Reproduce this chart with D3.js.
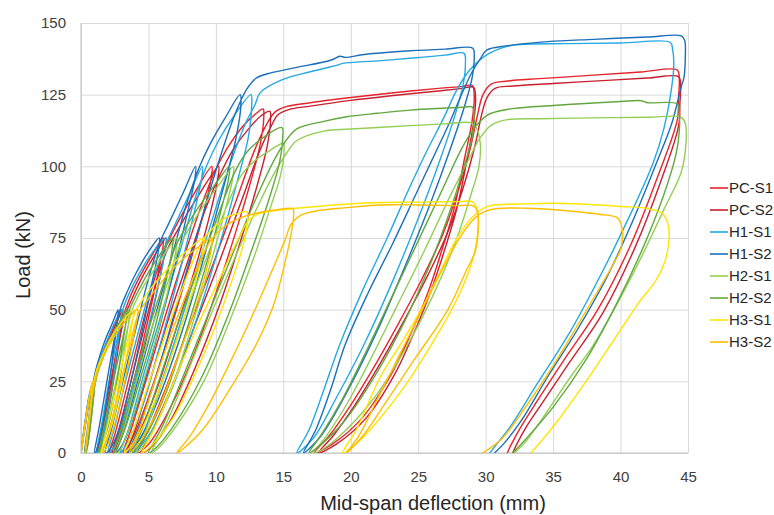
<!DOCTYPE html>
<html>
<head>
<meta charset="utf-8">
<script src="https://cdn.jsdelivr.net/npm/d3@7"></script>
<style>
  body { margin: 0; background: #fff; }
  text { font-family: "Liberation Sans", Arial, sans-serif; }
</style>
</head>
<body>
<svg id="chart"></svg>
<script>
// ---- data ----
const SERIES_NAMES = ['PC-S1', 'PC-S2', 'H1-S1', 'H1-S2', 'H2-S1', 'H2-S2', 'H3-S1', 'H3-S2'];
const X_TICKS = [0, 5, 10, 15, 20, 25, 30, 35, 40, 45];
const Y_TICKS = [0, 25, 50, 75, 100, 125, 150];

// [deflection mm, load kN]
const PC_S1 = [
  [0,0],[0.3,10],[0.6,19],[0.95,25],
  [0.92,22],[0.7,13],[0.45,4],[0.3,0],
  [0.55,8],[0.8,18],[1.05,26],[1.5,33],[2.0,39.5],[2.5,45],[3.0,50],
  [2.97,47],[2.7,38],[2.3,25],[1.8,11],[1.4,3],[1.15,0],
  [1.5,8],[2.0,20],[2.6,35],[3.1,47],[3.6,54],[4.3,61],[5.2,68.5],[6.1,75],
  [6.05,71],[5.6,60],[4.9,45],[4.0,27],[3.0,10],[2.4,2],[2.1,0],
  [2.6,8],[3.4,23],[4.4,42],[5.4,60],[6.2,71],[6.9,78],[8.2,89],[9.7,100],
  [9.65,96],[9.1,84],[8.0,65],[6.7,44],[5.2,22],[4.0,7],[3.3,1],[3.1,0],
  [3.7,8],[4.8,25],[6.2,47],[7.6,68],[8.9,86],[9.9,98],[10.8,106],[12.0,114],[13.0,118.5],[13.5,120],
  [13.55,117],[13.3,108],[12.6,95],[11.4,76],[9.8,53],[8.0,30],[6.2,12],[5.0,3],[4.2,0],
  [5.0,8],[6.4,24],[8.0,44],[9.8,66],[11.5,88],[12.9,106],[13.8,115],[14.4,119],[15.2,120.8],[17,122.2],[20,124],[23,125.6],[26.5,127.2],[28.3,127.9],[29.0,128.3],
  [29.15,125],[29.0,116],[28.4,102],[27.65,85],[26.7,70],[25.7,55.7],[24.3,40],[22.9,26.6],[20.8,12],[18.6,3],[17.3,0],
  [18.4,6],[19.9,16],[21.6,29],[23.4,44],[25.2,60],[26.8,76],[28.0,92],[28.9,107],[29.4,118],[29.8,125],[30.4,128.7],[31.5,129.7],[34,130.6],[38,131.8],[41.5,132.9],[44.2,133.6],
  [44.35,131],[44.3,124],[44.2,116.1],[42.75,96.4],[40.8,73.1],[38.3,49.9],[35.8,32.4],[33.8,18],[32.6,9],[31.9,3],[31.6,0]
];
const PC_S2 = [
  [0,0],[0.3,9],[0.65,19],[1.0,25],
  [0.97,22],[0.75,13],[0.5,4],[0.35,0],
  [0.6,8],[0.85,18],[1.1,26],[1.6,33],[2.1,39.5],[2.6,45],[3.1,50],
  [3.07,47],[2.8,38],[2.4,25],[1.9,11],[1.5,3],[1.25,0],
  [1.6,8],[2.1,20],[2.7,35],[3.2,47],[3.8,54],[4.5,61],[5.4,68.5],[6.3,75],
  [6.25,71],[5.8,60],[5.1,45],[4.2,27],[3.2,10],[2.6,2],[2.3,0],
  [2.8,8],[3.6,23],[4.6,42],[5.6,60],[6.4,71],[7.2,78],[8.6,89],[10.2,100],
  [10.15,96],[9.6,84],[8.5,65],[7.1,44],[5.6,22],[4.3,7],[3.6,1],[3.4,0],
  [4.0,8],[5.1,25],[6.5,47],[8.0,68],[9.3,86],[10.4,98],[11.3,106],[12.5,113.5],[13.4,117.8],[14.0,119.2],
  [14.05,116],[13.8,107],[13.1,94],[11.9,75],[10.3,52],[8.4,29],[6.6,11],[5.3,2.5],[4.5,0],
  [5.3,8],[6.8,24],[8.4,44],[10.2,66],[11.9,88],[13.3,106],[14.1,114],[14.6,118],[15.4,119.8],[17,121],[20,123],[23,124.6],[26.5,126.3],[28.3,127.2],[29.1,127.6],
  [29.25,124],[29.1,115],[28.6,102],[27.9,86],[26.9,70],[25.9,56],[24.6,41],[23.2,27],[21.1,12],[18.9,3],[17.6,0],
  [18.7,6],[20.2,16],[21.9,29],[23.7,44],[25.5,60],[27.1,76],[28.3,92],[29.2,107],[29.7,118],[30.1,124],[30.7,127.2],[32,128],[35,128.9],[39,130],[42,130.8],[44.3,131.3],
  [44.45,129],[44.4,122],[44.3,114],[43.0,95],[41.1,72],[38.7,49],[36.2,31.5],[34.2,17.5],[33.0,9],[32.3,3],[32.0,0]
];
const H1_S1 = [
  [0,0],[0.3,10],[0.65,20],[1.0,25],
  [0.97,22],[0.75,12],[0.5,3],[0.35,0],
  [0.6,9],[0.85,19],[1.1,27],[1.5,34],[2.0,40],[2.5,45.5],[3.0,50],
  [2.97,47],[2.7,37],[2.3,23],[1.8,9],[1.4,2],[1.15,0],
  [1.5,9],[2.0,23],[2.6,38],[3.1,50],[3.6,56],[4.3,62.5],[5.3,70],[6.3,75],
  [6.25,71],[5.8,60],[5.0,44],[4.0,25],[3.0,8],[2.3,1],[2.0,0],
  [2.5,9],[3.3,25],[4.3,43],[5.3,60],[6.3,73],[7.0,80],[8.0,90],[9.0,100],
  [8.95,96],[8.4,84],[7.3,63],[6.0,40],[4.6,17],[3.5,4],[2.9,0],
  [3.5,8],[4.5,25],[5.8,46],[7.2,68],[8.4,88],[9.3,100],[10.2,109],[11.4,118],[12.6,125],
  [12.65,121],[12.4,110],[11.6,95],[10.3,73],[8.6,47],[6.7,22],[5.0,6],[3.9,0],
  [4.8,9],[6.2,28],[7.8,52],[9.5,78],[11.0,100],[12.2,115],[12.9,121.5],[13.3,125.8],[14.8,130],[17,133],[19,135.3],[19.4,135.9],[22,136.8],[24.4,137.7],[27,138.8],[28.4,139.4],
  [28.5,136],[28.35,129],[27.8,119],[26.6,102],[25.1,83],[23.2,61],[21.1,39],[18.9,19],[17.2,5],[16.0,0],
  [16.9,8],[18.0,22],[19.2,38],[20.9,57],[22.7,75],[24.3,92],[25.6,105],[26.9,117],[27.9,127],[28.8,133.5],[29.5,136.8],[30.2,139.2],[31,141],[32.1,142.3],[36,142.8],[40,143],[43.7,143.2],
  [43.85,141],[43.95,136],[43.8,128],[43.2,113],[42.4,101],[40.4,80],[38.3,60],[36.1,41],[33.8,24],[31.8,9],[30.8,3],[30.3,0]
];
const H1_S2 = [
  [0,0],[0.3,11],[0.6,20],[0.9,25],
  [0.87,22],[0.65,12],[0.4,3],[0.25,0],
  [0.5,9],[0.75,19],[1.0,27],[1.4,34],[1.8,39.5],[2.3,45],[2.75,50],
  [2.72,47],[2.45,37],[2.05,23],[1.6,9],[1.2,1.5],[1.0,0],
  [1.35,9],[1.85,23],[2.4,38],[2.9,50],[3.4,56],[4.0,62],[4.9,69.5],[5.8,75],
  [5.75,71],[5.3,60],[4.6,44],[3.7,25],[2.8,8],[2.1,1],[1.8,0],
  [2.3,9],[3.1,25],[4.0,42],[4.9,59],[5.8,73],[6.5,80],[7.5,90],[8.5,100],
  [8.45,96],[7.9,84],[6.9,64],[5.6,40],[4.2,17],[3.2,4],[2.6,0],
  [3.2,8],[4.2,25],[5.4,46],[6.7,68],[7.9,88],[8.8,100],[9.6,108],[10.7,117],[11.8,125],
  [11.85,121],[11.5,110],[10.7,95],[9.4,73],[7.8,47],[6.0,22],[4.5,6],[3.5,0],
  [4.3,9],[5.6,27],[7.0,50],[8.6,76],[10.1,100],[11.4,118],[12.3,127],[13.0,130.8],[14.0,132.5],[16,134.5],[18.5,137],[19.2,138.4],[19.6,138],[21,139],[24.4,140.3],[27,140.9],[29.05,141.2],
  [29.15,138],[29.0,131],[28.5,122],[27.3,105],[25.9,87],[24.1,66],[22.0,43],[19.8,22],[17.8,6],[16.5,0],
  [17.4,8],[18.5,22],[19.6,38],[21.3,56],[23.1,73],[24.8,90],[26.0,102],[27.3,115],[28.3,126],[29.0,133],[29.6,137.5],[30.1,140.6],[31.5,142],[34.6,143.5],[38,144.3],[42,145.1],[44.5,145.5],
  [44.75,144],[44.8,138],[44.7,131],[44.5,127.8],[43.8,115],[42.75,102.2],[41.0,82],[39.0,61.5],[36.8,43],[34.6,26.6],[32.6,11],[31.3,3],[30.65,0]
];
const H2_S1 = [
  [0,0],[0.3,10],[0.65,20],[1.0,25],
  [0.97,22],[0.75,12],[0.5,3],[0.38,0],
  [0.6,8],[0.9,20],[1.25,28],[1.8,35],[2.4,41],[3.0,46],[3.6,50],
  [3.57,47],[3.25,37],[2.8,23],[2.2,9],[1.7,2],[1.45,0],
  [1.9,9],[2.5,23],[3.2,38],[3.8,50],[4.5,57],[5.3,63],[6.2,69.5],[7.1,75],
  [7.05,71],[6.6,60],[5.8,44],[4.7,26],[3.6,9],[2.9,1],[2.6,0],
  [3.2,9],[4.1,25],[5.2,43],[6.4,59],[7.3,72],[8.1,79],[9.2,87],[10.3,94],[11.3,100],
  [11.25,96],[10.7,85],[9.6,66],[8.2,44],[6.6,21],[5.1,6],[4.1,0],
  [4.9,9],[6.2,27],[7.7,48],[9.3,68],[10.8,86],[11.9,97],[12.9,102],[14,105.5],[15.0,108],
  [15.05,105],[14.8,97],[14.0,85],[12.8,68],[11.1,47],[9.1,25],[7.0,9],[5.8,2],[5.2,0],
  [6.2,9],[7.8,27],[9.6,48],[11.4,68],[13.1,86],[14.5,99],[15.3,105],[16,109],[18,112.3],[20,113],[24.4,114.2],[27,114.8],[28.9,115.2],
  [29.3,113.5],[29.6,108],[29.5,100],[28.9,90],[27.8,74],[26.1,55],[24.0,36],[21.7,19],[19.2,6],[17.8,1],[17.25,0],
  [18.2,6],[19.7,17],[21.5,33],[23.5,52],[25.5,71],[27.3,89],[28.7,102],[29.6,110],[30.4,114.3],[31.5,116.2],[34,116.6],[38,116.9],[42,117.1],[44.5,117.1],
  [44.8,115],[44.85,108],[44.5,98],[43.2,84.8],[41.4,67],[39.5,49.9],[37.9,37],[36.3,26.6],[34.2,12],[32.8,3],[32.1,0]
];
const H2_S2 = [
  [0,0],[0.3,10],[0.65,20],[1.0,25],
  [0.97,22],[0.75,12],[0.5,3],[0.35,0],
  [0.6,9],[0.9,20],[1.2,28],[1.7,35],[2.3,41],[2.9,46],[3.4,50],
  [3.37,47],[3.05,37],[2.6,23],[2.0,9],[1.5,2],[1.3,0],
  [1.7,9],[2.3,23],[3.0,38],[3.6,50],[4.3,57],[5.0,63],[5.9,69.5],[6.8,75],
  [6.75,71],[6.3,60],[5.5,44],[4.4,26],[3.3,9],[2.6,1],[2.4,0],
  [3.0,9],[3.9,25],[5.0,43],[6.1,59],[7.0,72],[7.8,79],[8.9,87],[10.0,94],[11.0,100],
  [10.95,96],[10.4,85],[9.3,66],[7.9,44],[6.3,21],[4.8,6],[3.8,0],
  [4.6,9],[5.9,27],[7.4,48],[9.0,68],[10.4,86],[11.4,98],[12.3,105],[13.5,110],[14.9,113.5],
  [14.95,110],[14.7,101],[13.9,88],[12.6,70],[10.9,48],[8.9,26],[6.8,9],[5.6,2],[5.0,0],
  [6.0,9],[7.6,27],[9.4,48],[11.2,69],[12.9,88],[14.3,102],[15.2,109],[16,113.1],[18,115.7],[19.7,117.3],[22,118.5],[24.4,119.6],[26.5,120.2],[28.4,120.6],[29.0,120.7],
  [29.15,117],[29.0,110],[28.4,100],[27.4,85],[25.9,66],[24.0,46],[21.8,27],[19.5,11],[17.8,3],[16.9,0],
  [17.9,7],[19.4,19],[21.2,36],[23.1,55],[25.0,74],[26.8,92],[28.2,106],[29.1,113],[30.1,117.8],[31,119.3],[32.1,120.2],[35,121.2],[38,122.1],[40,122.6],[41.5,122.9],[42.0,122.2],[44.2,121.8],
  [44.35,119],[44.35,112],[44.1,104],[43.2,90],[41.7,72],[39.7,52],[37.5,33],[35.0,16],[33.0,5],[32.0,0]
];
const H3_S1 = [
  [0,0],[0.3,10],[0.6,19],[0.85,25],
  [0.82,22],[0.6,12],[0.4,3],[0.3,0],
  [0.5,8],[0.8,20],[1.1,28],[1.6,34],[2.2,40],[3.0,45.5],[3.9,50],
  [3.85,47],[3.5,37],[3.0,24],[2.3,10],[1.7,2],[1.5,0],
  [1.9,8],[2.6,22],[3.4,38],[4.0,49],[4.8,55],[5.8,61],[7.0,67],[8.1,71.5],[9.1,75],
  [9.05,71],[8.6,62],[7.7,48],[6.5,31],[5.0,13],[3.8,3],[3.2,0],
  [3.9,8],[5.0,24],[6.4,43],[7.8,61],[9.0,74],[9.8,78.5],[10.8,82.3],[11.6,83.5],[12.3,84.2],
  [12.35,81],[12.1,74],[11.4,63],[10.1,46],[8.5,28],[6.8,12],[5.3,3],[4.5,0],
  [5.4,8],[6.9,25],[8.7,45],[10.5,63],[11.8,76],[12.5,81.5],[13.2,83.5],[14.8,84.8],[17,85.8],[19,86.6],[21.5,87.3],[25,87.5],[28,87.7],[29.0,87.7],
  [29.3,86],[29.45,81],[29.3,73],[28.8,64],[27.7,52],[26.0,38],[23.8,22],[21.6,9],[20.1,2],[19.4,0],
  [20.4,8],[22.2,26.6],[23.7,38],[25.2,49.9],[26.5,62],[27.65,73.1],[28.6,80],[29.4,84],[30.0,85.8],[30.6,86.5],[33,86.9],[35.3,87.1],[38,86.6],[40,86],[42.0,85.3],[43.1,83.5],[43.5,80.1],
  [43.6,75],[43.3,67],[42.6,60],[41.5,53.4],[39.5,39.4],[37.3,24],[35.3,11],[34.0,3.5],[33.35,0]
];
const H3_S2 = [
  [0,0],[0.3,10],[0.6,19],[0.9,25],
  [0.87,22],[0.65,12],[0.4,3],[0.3,0],
  [0.55,8],[0.85,20],[1.2,28],[1.7,34],[2.4,40],[3.2,45.5],[4.2,50],
  [4.15,47],[3.8,38],[3.2,24],[2.5,10],[1.9,2],[1.6,0],
  [2.1,8],[2.8,22],[3.6,37],[4.3,49],[5.2,55],[6.2,61],[7.4,67],[8.6,71.5],[9.7,75],
  [9.65,71],[9.2,62],[8.3,48],[7.0,31],[5.5,13],[4.2,3],[3.6,0],
  [4.3,8],[5.4,24],[6.8,43],[8.3,61],[9.6,74],[10.5,78.5],[11.8,82],[13.3,84],[14.5,84.8],[15.7,85.2],
  [15.75,82],[15.6,77],[15.2,68],[14.3,52],[13.0,38],[11.0,22],[9.0,8],[7.7,2],[7.1,0],
  [8.1,6],[9.6,18],[11.3,34],[12.9,50],[14.2,64],[15.1,74],[15.6,80],[16.3,83],[17.5,84.5],[19.5,85.5],[22.2,86.5],[25,86.5],[28,86.3],[29.1,86.2],
  [29.4,84],[29.45,78],[29.2,70],[28.6,64],[27.2,50],[24.7,32.5],[22.5,17],[20.9,6],[19.7,0],
  [20.6,6],[22.0,19],[23.7,35],[25.4,51],[26.9,65],[28.2,76],[29.2,82],[29.9,84.2],[30.9,85.3],[33,85.4],[36,84.5],[38.5,83.2],[39.8,81.9],[40.15,77],
  [40.0,71],[39.5,66.2],[38.5,58],[37.0,46],[35.2,32],[33.1,17],[31.2,5],[29.75,0]
];

const SERIES_DATA = [PC_S1, PC_S2, H1_S1, H1_S2, H2_S1, H2_S2, H3_S1, H3_S2];
const SERIES_COLORS = ['#e8232b', '#c8202f', '#25a9e2', '#1c6fbb', '#94cf55', '#62a83e', '#ffe500', '#ffbf00'];

// ---- layout ----
const WIDTH = 774, HEIGHT = 515;
const MARGIN = { top: 23, right: 86, bottom: 62, left: 81 };
const PLOT_W = WIDTH - MARGIN.left - MARGIN.right;
const PLOT_H = HEIGHT - MARGIN.top - MARGIN.bottom;

const svg = d3.select('#chart')
  .attr('width', WIDTH)
  .attr('height', HEIGHT);

const g = svg.append('g')
  .attr('transform', `translate(${MARGIN.left},${MARGIN.top})`);

const x = d3.scaleLinear().domain([0, 45]).range([0, PLOT_W]);
const y = d3.scaleLinear().domain([0, 150]).range([PLOT_H, 0]);

// gridlines + tick labels
const yAxis = g.append('g')
  .call(d3.axisLeft(y).tickValues(Y_TICKS).tickSize(-PLOT_W).tickPadding(15));
const xAxis = g.append('g')
  .attr('transform', `translate(0,${PLOT_H})`)
  .call(d3.axisBottom(x).tickValues(X_TICKS).tickSize(-PLOT_H).tickPadding(18));

[xAxis, yAxis].forEach(ax => {
  ax.select('.domain').remove();
  ax.selectAll('line').attr('stroke', '#d9d9d9').attr('stroke-width', 1);
  ax.selectAll('text')
    .attr('fill', '#404040')
    .style('font-size', '15px')
    .style('font-family', '"Liberation Sans", Arial, sans-serif');
});

// axis lines
g.append('line').attr('x1', 0).attr('x2', 0).attr('y1', 0).attr('y2', PLOT_H)
  .attr('stroke', '#bfbfbf');
g.append('line').attr('x1', 0).attr('x2', PLOT_W).attr('y1', PLOT_H).attr('y2', PLOT_H)
  .attr('stroke', '#bfbfbf');

// curves
g.append('clipPath').attr('id', 'plot-clip')
  .append('rect').attr('x', 0).attr('y', -2).attr('width', PLOT_W + 2).attr('height', PLOT_H + 2);

const line = d3.line()
  .x(d => x(d[0]))
  .y(d => y(d[1]))
  .curve(d3.curveCatmullRom.alpha(0.5));

g.append('g').attr('clip-path', 'url(#plot-clip)')
  .selectAll('path')
  .data(SERIES_DATA)
  .join('path')
    .attr('d', line)
    .attr('fill', 'none')
    .attr('stroke', (d, i) => SERIES_COLORS[i])
    .attr('stroke-width', 1.4)
    .attr('stroke-linejoin', 'round');

// axis titles
svg.append('text')
  .attr('x', 433)
  .attr('y', 510)
  .attr('text-anchor', 'middle')
  .attr('fill', '#262626')
  .style('font-size', '20px')
  .text('Mid-span deflection (mm)');

svg.append('text')
  .attr('transform', 'translate(30,255) rotate(-90)')
  .attr('text-anchor', 'middle')
  .attr('fill', '#262626')
  .style('font-size', '20px')
  .text('Load (kN)');

// legend
const legend = svg.append('g').attr('transform', 'translate(710,188)');
const items = legend.selectAll('g')
  .data(SERIES_NAMES)
  .join('g')
    .attr('transform', (d, i) => `translate(0,${i * 22})`);
items.append('line')
  .attr('x1', 0).attr('x2', 18)
  .attr('stroke', (d, i) => SERIES_COLORS[i])
  .attr('stroke-width', 1.6);
items.append('text')
  .attr('x', 19)
  .attr('dy', '0.35em')
  .attr('fill', '#262626')
  .style('font-size', '15px')
  .text(d => d);
</script>
</body>
</html>
